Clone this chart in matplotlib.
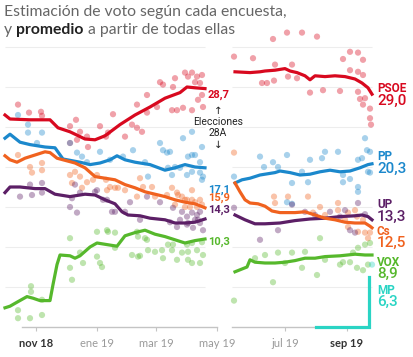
import matplotlib
matplotlib.use("Agg")
import matplotlib.pyplot as plt

plt.rcParams['font.family'] = ['Lato', 'DejaVu Sans']

# x values: days since 2018-10-01
# ---- rolling average (left panel, before 28A) ----
psoe_l_days = [0, 5, 25, 45, 53, 65, 80, 90, 100, 115, 130, 145, 160, 175, 182, 190, 200]
psoe_l_vals = [26.5, 26.0, 25.9, 25.9, 24.9, 24.4, 23.5, 23.4, 23.9, 25.3, 26.5, 27.5, 28.6, 29.3, 30.0, 29.9, 29.8]
pp_l_days = [0, 5, 15, 25, 40, 50, 58, 75, 85, 95, 105, 112, 120, 130, 145, 160, 170, 180, 190, 200]
pp_l_vals = [23.6, 24.1, 23.1, 22.8, 22.5, 22.4, 21.0, 20.6, 20.3, 20.5, 20.9, 21.4, 20.9, 20.6, 20.3, 19.6, 19.9, 20.3, 20.0, 19.9]
cs_l_days = [0, 5, 12, 20, 30, 40, 45, 52, 58, 70, 80, 90, 100, 110, 120, 130, 140, 150, 160, 170, 180, 190, 200]
cs_l_vals = [21.4, 20.9, 20.6, 21.1, 21.5, 21.9, 21.8, 21.1, 20.9, 20.5, 19.9, 18.8, 18.6, 18.4, 17.8, 17.4, 16.9, 16.6, 16.3, 15.9, 15.6, 15.4, 14.9]
up_l_days = [0, 5, 15, 30, 40, 50, 65, 80, 90, 100, 110, 117, 123, 135, 145, 160, 170, 180, 190, 200]
up_l_vals = [16.8, 17.5, 17.5, 17.3, 17.3, 16.6, 16.3, 16.6, 16.5, 15.9, 15.4, 14.4, 14.0, 13.9, 13.6, 13.4, 13.0, 13.0, 13.1, 13.5]
vox_l_days = [0, 5, 12, 22, 28, 35, 45, 48, 52, 55, 65, 70, 75, 85, 92, 102, 112, 120, 130, 140, 150, 160, 170, 180, 190, 200]
vox_l_vals = [2.4, 2.6, 3.1, 3.8, 3.6, 3.3, 3.3, 5.3, 7.8, 9.0, 8.9, 8.6, 8.9, 10.0, 10.5, 10.3, 10.1, 11.4, 11.8, 12.1, 11.6, 11.3, 10.9, 10.5, 10.8, 11.0]

# ---- rolling average (right panel, before 10N) ----
psoe_r_days = [223, 238, 248, 253, 263, 273, 278, 285, 293, 298, 303, 313, 323, 333, 343, 350, 356, 360]
psoe_r_vals = [31.9, 31.8, 31.9, 32.0, 32.1, 32.3, 32.0, 31.8, 31.4, 30.9, 31.4, 31.3, 31.4, 31.3, 31.0, 30.5, 29.9, 29.1]
pp_r_days = [223, 230, 238, 248, 263, 268, 278, 288, 298, 308, 318, 328, 338, 348, 356, 360]
pp_r_vals = [18.0, 18.4, 18.6, 19.0, 19.3, 19.5, 19.3, 19.0, 19.1, 19.4, 19.6, 19.4, 19.5, 19.9, 20.3, 20.4]
cs_r_days = [223, 228, 233, 238, 246, 253, 260, 268, 283, 293, 303, 313, 323, 333, 343, 353, 358, 360]
cs_r_vals = [18.0, 16.9, 15.9, 15.5, 15.4, 15.1, 14.5, 14.3, 14.3, 14.4, 14.0, 13.6, 13.4, 13.1, 13.0, 13.0, 12.6, 12.4]
up_r_days = [223, 233, 243, 253, 268, 283, 298, 313, 328, 343, 350, 356, 360]
up_r_vals = [14.0, 13.4, 12.9, 12.9, 13.0, 13.3, 13.5, 13.6, 13.8, 13.9, 14.0, 13.8, 13.4]
vox_r_days = [223, 233, 235, 238, 243, 253, 263, 273, 283, 293, 303, 313, 328, 343, 353, 360]
vox_r_vals = [6.9, 7.4, 7.5, 8.4, 8.1, 8.0, 8.0, 8.1, 8.3, 8.6, 8.6, 8.8, 8.9, 9.1, 9.0, 9.0]
mp_r_days = [304, 357, 357]
mp_r_vals = [0.0, 0.0, 6.3]

# ---- individual polls (day, %) ----
psoe_polls = [(13, 27.8), (24, 26.8), (36, 26.9), (37, 26.4), (71, 25.9), (65, 25.1), (75, 24.4), (82, 23.8),
              (95, 25.1), (108, 26.6), (101, 23.8), (72, 23.4), (65, 23.0), (83, 22.5), (103, 24.3), (127, 25.3),
              (132, 27.8), (137, 24.4), (120, 23.8), (142, 29.0), (155, 30.6), (158, 30.3), (168, 30.0), (170, 31.1),
              (167, 27.1), (172, 27.1), (178, 27.4), (180, 31.8), (183, 31.3), (187, 31.8), (192, 31.3), (197, 31.5),
              (195, 30.5), (190, 30.6), (187, 27.1), (193, 28.4), (198, 27.5), (142, 26.8), (132, 24.9), (152, 27.5),
              (197, 29.0),
              (222, 33.8), (241, 33.6), (261, 36.0), (275, 36.8), (290, 36.8), (305, 36.3), (338, 34.4), (346, 34.3),
              (351, 33.4), (331, 33.5), (338, 32.1), (346, 31.9), (351, 31.5), (263, 32.8), (280, 32.8), (250, 30.5),
              (255, 30.5), (262, 30.8), (276, 31.3), (285, 31.1), (298, 29.3), (311, 29.6), (328, 29.5), (346, 29.4),
              (353, 28.6), (348, 28.5), (351, 27.8), (358, 27.3), (358, 26.1), (359, 25.3)]
pp_polls = [(13, 26.5), (23, 25.3), (23, 24.3), (37, 24.3), (32, 23.0), (65, 23.0), (72, 21.8), (77, 21.3),
            (82, 20.6), (95, 21.9), (105, 20.9), (118, 21.3), (128, 22.1), (140, 20.6), (155, 23.0), (158, 22.1),
            (162, 21.8), (165, 21.9), (170, 20.0), (163, 19.9), (167, 19.0), (175, 19.9), (178, 23.6), (183, 21.3),
            (187, 21.5), (190, 21.5), (197, 22.5), (195, 20.6), (187, 19.4), (195, 19.3), (198, 18.8), (143, 18.8),
            (187, 24.4), (182, 19.0), (197, 18.4),
            (222, 18.8), (248, 21.3), (252, 20.0), (261, 20.6), (266, 20.0), (275, 21.5), (280, 18.0), (290, 19.4),
            (298, 20.9), (296, 18.1), (310, 21.1), (313, 21.9), (326, 21.9), (331, 19.0), (331, 18.1), (338, 18.5),
            (346, 17.5), (346, 16.9), (346, 20.9), (350, 21.1), (353, 23.6), (355, 22.1), (358, 21.9), (356, 19.4),
            (358, 19.3), (275, 15.6), (280, 15.4)]
cs_polls = [(13, 21.5), (25, 20.0), (27, 19.3), (37, 20.5), (37, 19.6), (65, 19.0), (70, 19.4), (75, 18.8),
            (67, 18.0), (77, 17.4), (88, 18.4), (92, 19.0), (101, 18.4), (105, 17.5), (82, 18.1), (102, 17.1),
            (110, 17.4), (120, 17.1), (135, 18.6), (138, 17.5), (147, 17.5), (162, 16.5), (173, 16.5), (180, 15.9),
            (187, 15.9), (190, 15.6), (195, 15.9), (197, 15.3), (192, 15.0), (187, 17.1), (132, 16.3), (150, 16.3),
            (167, 17.4), (172, 16.8), (177, 16.3), (182, 15.9), (185, 15.0), (180, 15.0), (170, 15.3), (113, 17.4),
            (222, 21.8), (262, 16.3), (276, 16.3), (296, 16.3), (308, 15.0), (263, 15.5), (326, 15.5), (326, 14.6),
            (336, 14.3), (345, 13.8), (343, 14.6), (333, 13.4), (336, 12.5), (346, 11.9), (353, 11.8), (356, 11.1),
            (358, 11.8), (351, 13.4), (313, 14.0), (301, 14.3)]
up_polls = [(25, 17.8), (37, 18.0), (37, 16.8), (27, 16.5), (15, 16.3), (75, 16.8), (90, 16.9), (70, 17.8),
            (67, 16.1), (98, 15.9), (65, 15.0), (72, 14.3), (92, 17.1), (102, 15.9), (107, 14.4), (125, 15.6),
            (142, 16.3), (155, 15.6), (168, 14.9), (177, 14.4), (182, 13.8), (187, 14.3), (183, 13.0), (190, 13.4),
            (195, 14.4), (195, 13.0), (175, 13.4), (110, 14.4), (120, 14.4), (135, 13.4), (165, 13.1), (172, 12.5),
            (182, 12.8), (188, 12.4), (193, 13.4), (198, 12.1), (192, 14.0),
            (222, 14.9), (280, 15.3), (346, 15.5), (248, 10.9), (266, 12.1), (338, 12.1), (343, 11.8), (328, 13.8),
            (353, 14.1), (303, 14.0), (318, 14.4), (293, 14.4), (333, 14.6)]
vox_polls = [(13, 2.1), (13, 1.1), (25, 1.1), (37, 1.5), (26, 5.1), (26, 4.4), (37, 3.4), (65, 11.1), (65, 7.4),
             (67, 5.9), (75, 9.3), (78, 8.0), (92, 8.8), (95, 8.0), (97, 7.5), (92, 11.9), (103, 11.9), (110, 9.9),
             (127, 9.0), (135, 8.9), (142, 10.9), (157, 9.6), (158, 8.6), (163, 10.3), (168, 10.3), (177, 9.3),
             (182, 10.3), (187, 8.0), (192, 9.6), (195, 8.0), (198, 9.0), (197, 10.6), (102, 12.1), (110, 11.8),
             (132, 11.9), (133, 11.3), (140, 11.1), (143, 9.6), (133, 8.8), (150, 9.4), (167, 9.6), (183, 9.4),
             (187, 10.5), (183, 8.4), (172, 8.4),
             (222, 3.3), (261, 5.6), (305, 6.5), (328, 7.8), (331, 8.1), (338, 8.1), (345, 7.4), (351, 7.1),
             (356, 7.8), (346, 9.9), (353, 10.3), (358, 10.5), (308, 11.1), (293, 9.4), (280, 9.3), (266, 9.3),
             (253, 9.0), (243, 8.6), (273, 8.0), (290, 7.4), (313, 8.4), (341, 9.3)]
mp_polls = [(360, 7.8)]

# ---- labels ----
left_final_labels = ['28,7', '17,1', '15,9', '14,3', '10,3']
left_label_pos = [29.0, 17.2, 16.15, 14.6, 10.6]         # label centres (repelled)
party_names = ['PSOE', 'PP', 'UP', 'Cs', 'VOX', 'MP']
right_final_labels = ['29,0', '20,3', '13,3', '12,5', '8,9', '6,3']
right_label_pos = [29.0, 20.5, 14.5, 11.2, 7.35, 3.85]   # label block centres (repelled)

left_ticks = [31, 92, 151, 212]
left_ticklabels = ['nov 18', 'ene 19', 'mar 19', 'may 19']
right_ticks = [273, 335]
right_ticklabels = ['jul 19', 'sep 19']
grid_levels = [5, 10, 15, 20, 25, 30, 35]

C_PSOE = '#d8091f'
C_PP = '#1b88cc'
C_CS = '#f0621f'
C_UP = '#5c1f66'
C_VOX = '#56b82c'
C_MP = '#2ad4c4'

W, H = 414, 357
fig = plt.figure(figsize=(W / 100, H / 100), dpi=100)
axL = fig.add_axes([0 / W, (H - 327) / H, 220 / W, 300 / H])
axR = fig.add_axes([225 / W, (H - 327) / H, 189 / W, 300 / H])

for ax, lim in ((axL, (-5, 215)), (axR, (213, 402))):
    ax.set_xlim(*lim)
    ax.set_ylim(0, 37.5)
    ax.patch.set_alpha(0)
    for s in ('top', 'right', 'left'):
        ax.spines[s].set_visible(False)
    ax.spines['bottom'].set_color('#c4c4c4')
    ax.spines['bottom'].set_linewidth(1.0)
    ax.set_yticks([])
    ax.tick_params(axis='x', length=3, width=0.8, color='#c4c4c4', pad=5, labelsize=8)

axL.spines['bottom'].set_bounds(17, 212)
axR.spines['bottom'].set_bounds(220, 357)
axL.hlines(grid_levels, 0, 200, color='#ededed', lw=0.8, zorder=0)
axR.hlines(grid_levels, 220, 360, color='#ededed', lw=0.8, zorder=0)

axL.set_xticks(left_ticks)
axL.set_xticklabels(left_ticklabels)
axR.set_xticks(right_ticks)
axR.set_xticklabels(right_ticklabels)
for lab in axL.get_xticklabels() + axR.get_xticklabels():
    if lab.get_text() in ('nov 18', 'sep 19'):
        lab.set_color('#333333')
        lab.set_fontweight('bold')
    else:
        lab.set_color('#9a9a9a')

polls = [(psoe_polls, C_PSOE), (pp_polls, C_PP), (cs_polls, C_CS), (up_polls, C_UP), (vox_polls, C_VOX), (mp_polls, C_MP)]
for ax in (axL, axR):
    for pts, col in polls:
        xs = [p[0] for p in pts]
        ys = [p[1] for p in pts]
        ax.scatter(xs, ys, s=20, color=col, alpha=0.38, edgecolors='none', zorder=2)

lw = 2.3
axL.plot(psoe_l_days, psoe_l_vals, color=C_PSOE, lw=lw, zorder=4)
axL.plot(pp_l_days, pp_l_vals, color=C_PP, lw=lw, zorder=4)
axL.plot(cs_l_days, cs_l_vals, color=C_CS, lw=lw, zorder=4)
axL.plot(up_l_days, up_l_vals, color=C_UP, lw=lw, zorder=4)
axL.plot(vox_l_days, vox_l_vals, color=C_VOX, lw=lw, zorder=4)
axR.plot(psoe_r_days, psoe_r_vals, color=C_PSOE, lw=lw, zorder=4)
axR.plot(pp_r_days, pp_r_vals, color=C_PP, lw=lw, zorder=4)
axR.plot(up_r_days, up_r_vals, color=C_UP, lw=lw, zorder=4)
axR.plot(cs_r_days, cs_r_vals, color=C_CS, lw=lw, zorder=4)
axR.plot(vox_r_days, vox_r_vals, color=C_VOX, lw=lw, zorder=4)
axR.plot(mp_r_days, mp_r_vals, color=C_MP, lw=lw, zorder=5, clip_on=False, solid_joinstyle='miter')

left_cols = [C_PSOE, C_PP, C_CS, C_UP, C_VOX]
for txt, pos, col in zip(left_final_labels, left_label_pos, left_cols):
    axL.text(203, pos, txt, color=col, fontsize=8, fontweight='semibold', ha='left', va='center',
             family=['Roboto', 'DejaVu Sans'])

right_cols = [C_PSOE, C_PP, C_UP, C_CS, C_VOX, C_MP]
for name, txt, pos, col in zip(party_names, right_final_labels, right_label_pos, right_cols):
    axR.text(365, pos + 0.75, name, color=col, fontsize=8.5, fontweight='semibold', ha='left', va='center',
             family=['Roboto', 'DejaVu Sans'])
    axR.text(365, pos - 0.75, txt, color=col, fontsize=11, fontweight='medium', ha='left', va='center',
             family=['Roboto', 'DejaVu Sans'])

axL.text(213, 24.9, '↑\nElecciones\n28A\n↓', ha='center', va='center', fontsize=7.5, linespacing=1.15,
         color='#222222', family=['Roboto', 'DejaVu Sans'])

# title
FS = 11.3
fig.text(4 / W, 1 - 12 / H, 'Estimación de voto según cada encuesta,', fontsize=FS, color='#666666',
         ha='left', va='center')
bg = fig.add_axes([0, 0, 1, 1], zorder=-1)
bg.axis('off')
ta = fig.text(4 / W, 1 - 30 / H, 'y ', fontsize=FS, color='#666666', ha='left', va='center')
tb = bg.annotate('promedio', xy=(1, 0), xycoords=ta, fontsize=FS, color='#222222', fontweight='bold',
                 ha='left', va='bottom')
tc = bg.annotate(' a partir de todas ellas', xy=(1, 0), xycoords=tb, fontsize=FS, color='#666666',
                 ha='left', va='bottom')

fig.savefig('out.png', dpi=100)
